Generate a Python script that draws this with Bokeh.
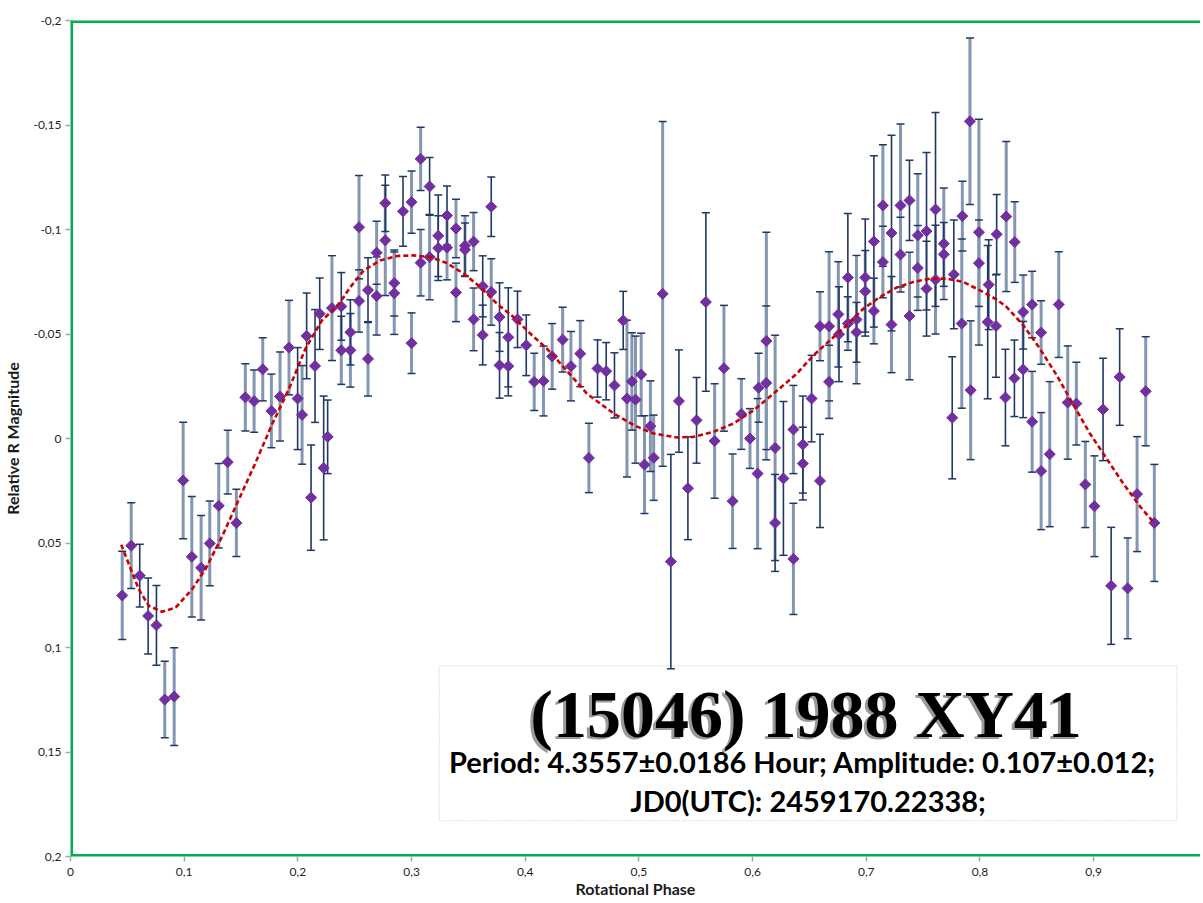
import math
from bokeh.plotting import figure
from bokeh.models import (ColumnDataSource, Whisker, TeeHead, Span, BoxAnnotation,
                          Label, FixedTicker, Range1d)
from bokeh.embed import file_html
from bokeh.resources import INLINE

# ---------------- data ----------------
phase = [0.0455, 0.0534, 0.0609, 0.0683, 0.0756, 0.0829, 0.0912, 0.0991, 0.1067, 0.1149,
         0.1225, 0.1304, 0.1383, 0.1459, 0.1538, 0.1615, 0.1691, 0.1767, 0.1843, 0.1922,
         0.1998, 0.2037, 0.2077, 0.2116, 0.2151, 0.2192, 0.2227, 0.2262, 0.2300,
         0.2382, 0.2382, 0.2462, 0.2462, 0.2538, 0.2538, 0.2617, 0.2617, 0.2693, 0.2693,
         0.2769, 0.2769, 0.2848, 0.2848, 0.2925, 0.3000, 0.3000, 0.3080, 0.3080, 0.3159,
         0.3159, 0.3235, 0.3235, 0.3312, 0.3312, 0.3391, 0.3391, 0.3470, 0.3470, 0.3546,
         0.3546, 0.3626, 0.3626, 0.3701, 0.3701, 0.3774, 0.3774, 0.3851, 0.3851, 0.3932,
         0.4009, 0.4079, 0.4161, 0.4237,
         0.4329, 0.4402, 0.4484, 0.4560, 0.4636, 0.4712, 0.4785, 0.4862, 0.4895, 0.4938,
         0.4970, 0.5020, 0.5049, 0.5101, 0.5130, 0.5209, 0.5281, 0.5352, 0.5431, 0.5507,
         0.5589, 0.5666, 0.5748, 0.5824, 0.5901, 0.5977, 0.6044, 0.6053, 0.6120, 0.6121,
         0.6198, 0.6198, 0.6271,
         0.6359, 0.6359, 0.6442, 0.6442, 0.6519, 0.6593, 0.6593, 0.6673, 0.6673, 0.6754,
         0.6760, 0.6838, 0.6838, 0.6914, 0.6914, 0.6991, 0.6991, 0.7067, 0.7067, 0.7146,
         0.7146, 0.7222, 0.7222, 0.7301, 0.7301, 0.7380, 0.7380, 0.7453, 0.7453, 0.7530,
         0.7530, 0.7609, 0.7609, 0.7682, 0.7682, 0.7756, 0.7770, 0.7845, 0.7840, 0.7912,
         0.7918, 0.7991, 0.7991, 0.8068, 0.8077, 0.8141, 0.8147,
         0.8231, 0.8224, 0.8306, 0.8303, 0.8380, 0.8380, 0.8459, 0.8459, 0.8538, 0.8538,
         0.8614, 0.8693, 0.8772, 0.8848, 0.8927, 0.9007, 0.9083, 0.9154, 0.9229, 0.9299,
         0.9382, 0.9458, 0.9534]

magnitude = [0.0751, 0.0513, 0.0656, 0.0849, 0.0894, 0.1249, 0.1235, 0.0201, 0.0566, 0.0619,
             0.0502, 0.0322, 0.0113, 0.0404, -0.0197, -0.0179, -0.0331, -0.0132, -0.0201, -0.0435,
             -0.0191, -0.0113, -0.0491, 0.0283, -0.0347, -0.0597, 0.0141, -0.0008, -0.0624,
             -0.0632, -0.0422, -0.0508, -0.0422, -0.1011, -0.0658, -0.0710, -0.0381, -0.0889, -0.0682,
             -0.1126, -0.0948, -0.0744, -0.0695, -0.1087, -0.1131, -0.0456, -0.1338, -0.0841, -0.1206,
             -0.0868, -0.0970, -0.0911, -0.1067, -0.0913, -0.1005, -0.0699, -0.0922, -0.0903, -0.0942,
             -0.0570, -0.0728, -0.0495, -0.1109, -0.0701, -0.0581, -0.0350, -0.0484, -0.0346, -0.0570,
             -0.0446, -0.0271, -0.0275, -0.0393,
             -0.0473, -0.0346, -0.0406, 0.0093, -0.0335, -0.0322, -0.0254, -0.0565, -0.0191, -0.0273,
             -0.0186, -0.0306, 0.0125, -0.0059, 0.0092, -0.0692, 0.0589, -0.0179, 0.0238, -0.0087,
             -0.0653, 0.0012, -0.0336, 0.0300, -0.0117, 0.0000, 0.0168, -0.0243, -0.0266, -0.0467,
             0.0045, 0.0404, 0.0191,
             -0.0043, 0.0576, 0.0029, 0.0120, -0.0191, 0.0203, -0.0537, -0.0537, -0.0271, -0.0594,
             -0.0499, -0.0770, -0.0550, -0.0569, -0.0508, -0.0770, -0.0704, -0.0943, -0.0610, -0.1115,
             -0.0844, -0.0983, -0.0545, -0.1115, -0.0880, -0.1139, -0.0586, -0.0972, -0.0816, -0.0992,
             -0.0717, -0.1096, -0.0760, -0.0932, -0.0881, -0.0099, -0.0785, -0.1064, -0.0550, -0.1518,
             -0.0231, -0.0987, -0.0839, -0.0557, -0.0736, -0.0538, -0.0977,
             -0.1062, -0.0196, -0.0940, -0.0288, -0.0605, -0.0330, -0.0641, -0.0080, -0.0507, 0.0156,
             0.0075, -0.0641, -0.0172, -0.0167, 0.0220, 0.0324, -0.0139, 0.0705, -0.0294, 0.0717,
             0.0266, -0.0226, 0.0404]

error = [0.0211, 0.0205, 0.0150, 0.0182, 0.0191, 0.0183, 0.0234, 0.0279, 0.0288, 0.0250,
         0.0203, 0.0202, 0.0152, 0.0161, 0.0161, 0.0149, 0.0151, 0.0176, 0.0213, 0.0226,
         0.0244, 0.0236, 0.0205, 0.0252, 0.0270, 0.0171, 0.0344, 0.0176, 0.0251,
         0.0162, 0.0163, 0.0156, 0.0176, 0.0247, 0.0149, 0.0155, 0.0178, 0.0151, 0.0187,
         0.0135, 0.0264, 0.0158, 0.0197, 0.0167, 0.0149, 0.0145, 0.0151, 0.0159, 0.0138,
         0.0204, 0.0195, 0.0155, 0.0141, 0.0154, 0.0140, 0.0140, 0.0144, 0.0128, 0.0139,
         0.0150, 0.0146, 0.0143, 0.0142, 0.0159, 0.0164, 0.0157, 0.0237, 0.0142, 0.0135,
         0.0145, 0.0137, 0.0167, 0.0157,
         0.0155, 0.0166, 0.0158, 0.0166, 0.0137, 0.0137, 0.0156, 0.0139, 0.0375, 0.0233,
         0.0304, 0.0198, 0.0234, 0.0217, 0.0204, 0.0825, 0.0513, 0.0245, 0.0246, 0.0205,
         0.0427, 0.0274, 0.0301, 0.0226, 0.0169, 0.0143, 0.0359, 0.0165, 0.0368, 0.0520,
         0.0539, 0.0232, 0.0368,
         0.0211, 0.0266, 0.0232, 0.0174, 0.0207, 0.0223, 0.0165, 0.0357, 0.0175, 0.0252,
         0.0227, 0.0307, 0.0128, 0.0307, 0.0143, 0.0280, 0.0195, 0.0410, 0.0157, 0.0291,
         0.0171, 0.0468, 0.0230, 0.0390, 0.0179, 0.0192, 0.0305, 0.0295, 0.0203, 0.0377,
         0.0227, 0.0464, 0.0260, 0.0267, 0.0153, 0.0292, 0.0260, 0.0167, 0.0405, 0.0398,
         0.0332, 0.0540, 0.0207, 0.0367, 0.0215, 0.0245, 0.0191,
         0.0359, 0.0231, 0.0193, 0.0183, 0.0177, 0.0230, 0.0159, 0.0241, 0.0152, 0.0280,
         0.0347, 0.0253, 0.0271, 0.0198, 0.0206, 0.0241, 0.0245, 0.0280, 0.0231, 0.0241,
         0.0275, 0.0261, 0.0280]

# observing session of each point: "L" = light error bars, "D" = dark error bars
session = list("LLDDDLLLLLLLLLLLLLLLDLDDDDDDL"
               "DLDLLLDLLLDLLLDLLLLDLDDDLLLLDLLDDDLDDDDDDLLLL"
               "LLLDDDDLLLLLLLLDDDDDLLLLLLLLLLDDL"
               "LDDDDLLLLDDLLDDLDLLLDLLLDLLLDDDLLDDDLLLLLLDDDDL"
               "DLDLDLLLLLLLLLLDDDLLLLL")

curve_phase = [0.0446, 0.0601, 0.0688, 0.0806, 0.0923, 0.1069, 0.1187, 0.1334, 0.1480, 0.1626,
               0.1773, 0.1919, 0.2066, 0.2212, 0.2300, 0.2374, 0.2462, 0.2579, 0.2725, 0.2872,
               0.3018, 0.3165, 0.3312, 0.3458, 0.3604, 0.3751, 0.3897, 0.4044, 0.4190, 0.4308,
               0.4542, 0.4777, 0.4953, 0.5129, 0.5334, 0.5481, 0.5657, 0.5833, 0.6009, 0.6185,
               0.6390, 0.6536, 0.6681, 0.6828, 0.6974, 0.7121, 0.7267, 0.7414, 0.7560, 0.7707,
               0.7853, 0.8000, 0.8147, 0.8235, 0.8381, 0.8527, 0.8675, 0.8791, 0.8967, 0.9114,
               0.9260, 0.9411, 0.9525]
curve_mag = [0.0508, 0.0722, 0.0800, 0.0829, 0.0810, 0.0722, 0.0625, 0.0468, 0.0293, 0.0118,
             -0.0068, -0.0234, -0.0429, -0.0565, -0.0610, -0.0653, -0.0725, -0.0804, -0.0852, -0.0873,
             -0.0876, -0.0868, -0.0839, -0.0789, -0.0725, -0.0645, -0.0581, -0.0502, -0.0430, -0.0360,
             -0.0215, -0.0120, -0.0064, -0.0024, -0.0005, -0.0008, -0.0032, -0.0072, -0.0135, -0.0215,
             -0.0311, -0.0398, -0.0470, -0.0542, -0.0621, -0.0677, -0.0722, -0.0749, -0.0765, -0.0765,
             -0.0749, -0.0709, -0.0665, -0.0629, -0.0542, -0.0430, -0.0303, -0.0191, -0.0024, 0.0096,
             0.0215, 0.0327, 0.0399]

x_ticks = [0.0, 0.1, 0.2, 0.3, 0.4, 0.5, 0.6, 0.7, 0.8, 0.9]
x_tick_labels = ["0", "0,1", "0,2", "0,3", "0,4", "0,5", "0,6", "0,7", "0,8", "0,9"]
y_ticks = [-0.2, -0.15, -0.1, -0.05, 0.0, 0.05, 0.1, 0.15, 0.2]
y_tick_labels = ["-0,2", "-0,15", "-0,1", "-0,05", "0", "0,05", "0,1", "0,15", "0,2"]

title_text = "(15046) 1988 XY41"
info_line1 = "Period: 4.3557\u00b10.0186 Hour;  Amplitude: 0.107\u00b10.012;"
info_line2 = "JD0(UTC): 2459170.22338;"

# ---------------- figure ----------------
p = figure(width=1200, height=900, x_range=Range1d(0, 0.994), y_range=Range1d(0.2, -0.2),
           output_backend="svg", toolbar_location=None,
           min_border_left=69, min_border_right=0, min_border_top=20, min_border_bottom=43,
           background_fill_color="white", border_fill_color="white")
p.outline_line_color = None
p.grid.visible = False

GREEN = "#00b050"
for loc in (-0.2, 0.2):
    p.add_layout(Span(location=loc, dimension="width", line_color=GREEN, line_width=5, level="underlay"))
p.add_layout(Span(location=0, dimension="height", line_color=GREEN, line_width=5, level="underlay"))

# info box (behind the data)
p.add_layout(BoxAnnotation(left=0.3244, right=0.9732, top=0.1088, bottom=0.1829,
                           fill_color="white", fill_alpha=1.0, line_color="#5ccf85",
                           line_width=1.2, line_dash="2 1", level="image"))

# error bars
def split(tag):
    xs, base_y, up, lo = [], [], [], []
    for x, y, e, s in zip(phase, magnitude, error, session):
        if s == tag:
            xs.append(x); base_y.append(y); up.append(y - e); lo.append(y + e)
    return ColumnDataSource(dict(x=xs, y=base_y, upper=up, lower=lo))

NAVY = "#1f3864"
for tag, col, lw in [("L", "#8497b0", 3), ("D", NAVY, 1.6)]:
    src = split(tag)
    w = Whisker(base="x", upper="upper", lower="lower", source=src, dimension="height",
                line_color=col, line_width=lw,
                upper_head=TeeHead(size=8, line_color=NAVY, line_width=1.5),
                lower_head=TeeHead(size=8, line_color=NAVY, line_width=1.5))
    p.add_layout(w)

pts = ColumnDataSource(dict(x=phase, y=magnitude))
p.scatter("x", "y", source=pts, marker="square", size=7.8, angle=math.pi / 4,
          fill_color="#7030a0", line_color="#7030a0", line_width=1)

p.line(curve_phase, curve_mag, line_color="#cc0000", line_width=2.6, line_dash="5 3")

# axes
p.xaxis.ticker = FixedTicker(ticks=x_ticks)
p.yaxis.ticker = FixedTicker(ticks=y_ticks)
p.xaxis.major_label_overrides = {t: l for t, l in zip(x_ticks, x_tick_labels)}
p.yaxis.major_label_overrides = {t: l for t, l in zip(y_ticks, y_tick_labels)}
for ax in (p.xaxis, p.yaxis):
    ax.axis_line_color = None
    ax.major_tick_line_color = "#a6a6a6"
    ax.major_tick_line_width = 1.5
    ax.major_tick_out = 5
    ax.major_tick_in = 0
    ax.minor_tick_line_color = None
    ax.major_label_text_font = "Lato"
    ax.major_label_text_font_size = "12px"
    ax.major_label_text_color = "#1f1f1f"
    ax.axis_label_text_font = "Lato"
    ax.axis_label_text_font_style = "bold"
    ax.axis_label_text_font_size = "16px"
    ax.axis_label_text_color = "#1a1a1a"
p.xaxis.axis_label = "Rotational Phase"
p.yaxis.axis_label = "Relative R Magnitude"
p.xaxis.major_label_standoff = 6
p.xaxis.axis_label_standoff = 0
p.yaxis.major_label_standoff = 4
p.yaxis.axis_label_standoff = 8

# texts in the box
for col, dx, dy in [("#9a9a9a", -3, -2), ("black", 0, 0)]:
    p.add_layout(Label(x=0.647, y=0.1316, text=title_text, text_align="center",
                       text_baseline="middle", text_font="Liberation Serif",
                       text_font_style="bold", text_font_size="68px", text_color=col,
                       x_offset=dx, y_offset=dy))
p.add_layout(Label(x=0.647, y=0.1547, text=info_line1, text_align="center", text_baseline="middle",
                   text_font="Lato", text_font_style="bold", text_font_size="29px", text_color="black"))
p.add_layout(Label(x=0.6488, y=0.1730, text=info_line2, text_align="center", text_baseline="middle",
                   text_font="Lato", text_font_style="bold", text_font_size="29px", text_color="black"))

open("out.html", "w").write(file_html(p, INLINE))
